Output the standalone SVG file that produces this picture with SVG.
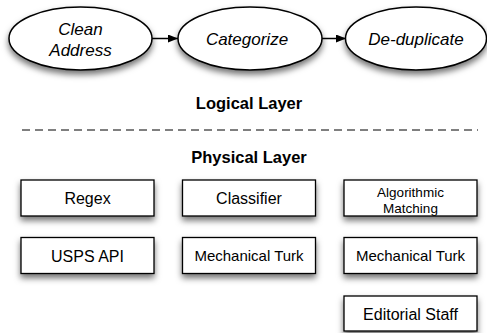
<svg xmlns="http://www.w3.org/2000/svg" width="487" height="333" viewBox="0 0 487 333">
<defs>
<filter id="sh" x="-20%" y="-30%" width="140%" height="180%">
<feDropShadow dx="0" dy="4" stdDeviation="3" flood-color="#000" flood-opacity="0.55"/>
</filter>
<marker id="arr" markerWidth="10" markerHeight="8" refX="10" refY="4" orient="auto" markerUnits="userSpaceOnUse">
<path d="M0,0 L10,4 L0,8 Z" fill="#000"/>
</marker>
<style>
.ell{fill:#fff;stroke:#000;stroke-width:1.5;filter:url(#sh)}
.box{fill:#fff;stroke:#000;stroke-width:1.3;filter:url(#sh)}
.it{font-family:"Liberation Sans",Arial,sans-serif;font-style:italic;font-size:17px;text-anchor:middle;fill:#000}
.hd{font-family:"Liberation Sans",Arial,sans-serif;font-weight:bold;font-size:16.5px;text-anchor:middle;fill:#000}
.bt{font-family:"Liberation Sans",Arial,sans-serif;font-size:16px;text-anchor:middle;fill:#000}
.edge{stroke:#000;stroke-width:1.5;fill:none;marker-end:url(#arr)}
</style>
</defs>
<g id="connectors">
<line class="edge" x1="152" y1="38.5" x2="178" y2="38.5"/>
<line class="edge" x1="322" y1="38.5" x2="346" y2="38.5"/>
</g>
<g id="clean-address">
<ellipse class="ell" cx="80.5" cy="38.5" rx="71.5" ry="31.5"/>
<text class="it" x="80.5" y="35">Clean</text>
<text class="it" x="80.5" y="56">Address</text>
</g>
<g id="categorize">
<ellipse class="ell" cx="250" cy="38.5" rx="72" ry="31.5"/>
<text class="it" x="247" y="44.5">Categorize</text>
</g>
<g id="de-duplicate">
<ellipse class="ell" cx="416" cy="38.5" rx="70.5" ry="31.5"/>
<text class="it" x="416" y="44.5">De-duplicate</text>
</g>
<text class="hd" x="249" y="109">Logical Layer</text>
<line x1="22" y1="130" x2="478" y2="130" stroke="#000" stroke-width="1" stroke-dasharray="8,5"/>
<text class="hd" x="249" y="163">Physical Layer</text>
<g id="regex">
<rect class="box" x="21" y="180" width="133" height="36"/>
<text class="bt" x="87.5" y="204">Regex</text>
</g>
<g id="classifier">
<rect class="box" x="182.5" y="180" width="133" height="36"/>
<text class="bt" x="249" y="204">Classifier</text>
</g>
<g id="algorithmic-matching">
<rect class="box" x="344" y="180" width="133" height="36"/>
<text class="bt" x="410.5" y="196.5" style="font-size:13.5px">Algorithmic</text>
<text class="bt" x="410.5" y="213" style="font-size:13.5px">Matching</text>
</g>
<g id="usps-api">
<rect class="box" x="21" y="237.5" width="133" height="36"/>
<text class="bt" x="87.5" y="261.5">USPS API</text>
</g>
<g id="mechanical-turk-1">
<rect class="box" x="182.5" y="237.5" width="133" height="36"/>
<text class="bt" x="249" y="261" style="font-size:15px">Mechanical Turk</text>
</g>
<g id="mechanical-turk-2">
<rect class="box" x="344" y="237.5" width="133" height="36"/>
<text class="bt" x="410.5" y="261" style="font-size:15px">Mechanical Turk</text>
</g>
<g id="editorial-staff">
<rect class="box" x="344" y="296" width="133" height="35"/>
<text class="bt" x="410.5" y="320">Editorial Staff</text>
</g>
</svg>
